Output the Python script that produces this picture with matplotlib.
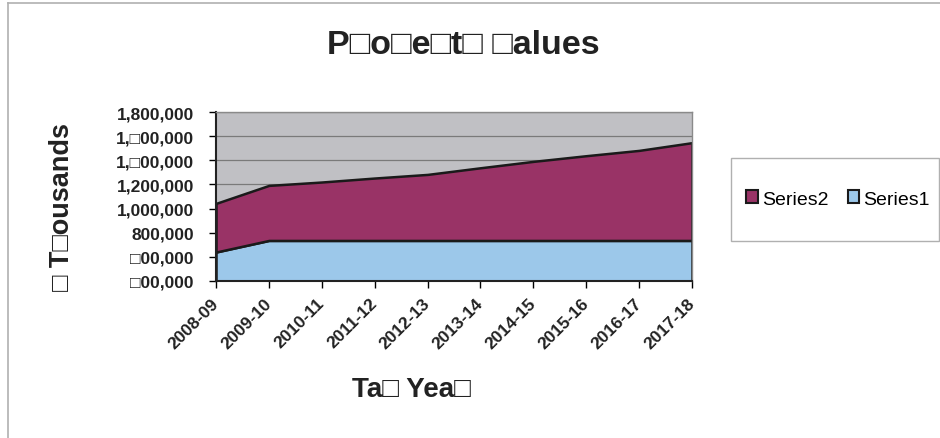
import matplotlib
matplotlib.use("Agg")
import matplotlib.pyplot as plt
from matplotlib.patches import Patch, Rectangle
from matplotlib.lines import Line2D
import numpy as np

plt.rcParams['font.family'] = ['Liberation Sans', 'DejaVu Sans']

years = ['2008-09', '2009-10', '2010-11', '2011-12', '2012-13',
         '2013-14', '2014-15', '2015-16', '2016-17', '2017-18']
series1 = [640000, 736000, 736000, 736000, 736000, 736000, 736000, 736000, 736000, 736000]
series2 = [403000, 456000, 484000, 517000, 547000, 602000, 655000, 702000, 746000, 810000]
y_ticks = [400000, 600000, 800000, 1000000, 1200000, 1400000, 1600000, 1800000]
# digits 4 and 6 were missing from the source font
y_tick_labels = [f"{v:,}".replace('4', '\u25a1').replace('6', '\u25a1') for v in y_ticks]

title = "P\u25a1o\u25a1e\u25a1t\u25a1 \u25a1alues"
y_label = "\u25a1 T\u25a1ousands"
x_label = "Ta\u25a1 Yea\u25a1"

c_grey = '#C0C0C4'
c_purple = '#993366'
c_blue = '#9CC8EA'

fig = plt.figure(figsize=(9.4, 4.39), dpi=100)
ax = fig.add_axes([216 / 940, 1 - 282 / 439, (692 - 216) / 940, (282 - 113) / 439])

x = np.arange(len(years))
ax.set_facecolor(c_grey)
ax.stackplot(x, series1, series2, colors=[c_blue, c_purple],
             edgecolor='#1a1a1a', linewidth=1.8, zorder=2)

ax.set_xlim(0, len(years) - 1)
ax.set_ylim(y_ticks[0], y_ticks[-1])
ax.set_yticks(y_ticks)
ax.set_yticklabels(y_tick_labels, fontsize=12.5, fontweight='bold', color='#222222')
ax.set_xticks(x)
ax.set_xticklabels(years, fontsize=12.5, fontweight='bold', color='#222222',
                   rotation=45, ha='right', va='center', rotation_mode='anchor')
ax.tick_params(axis='y', length=5, width=1, pad=11, direction='out')
ax.tick_params(axis='x', length=5, width=1, pad=9, direction='out')
ax.grid(axis='y', color='#7a7a7a', linewidth=0.9, zorder=1)
ax.set_axisbelow(True)

for side in ['left', 'bottom']:
    ax.spines[side].set_color('#222222')
    ax.spines[side].set_linewidth(1.5)
for side in ['top', 'right']:
    ax.spines[side].set_color('#8a8a8a')
    ax.spines[side].set_linewidth(1.0)

fig.text(463 / 940, 1 - 46 / 439, title, fontsize=24.5, fontweight='bold',
         color='#222222', ha='center', va='center')
fig.text(62 / 940, 1 - 207 / 439, y_label, fontsize=19.5, fontweight='bold',
         color='#222222', ha='center', va='center', rotation=90)
fig.text(411 / 940, 1 - 390 / 439, x_label, fontsize=20, fontweight='bold',
         color='#222222', ha='center', va='center')

# outer chart border
fig.add_artist(Line2D([8 / 940, 1], [1 - 4 / 439, 1 - 4 / 439], color='#b0b0b0', linewidth=1.2))
fig.add_artist(Line2D([8 / 940, 8 / 940], [0, 1 - 4 / 439], color='#b0b0b0', linewidth=1.2))

# legend box
fig.add_artist(Rectangle((731 / 940, 1 - 242 / 439), (939 - 731) / 940, (242 - 159) / 439,
                         transform=fig.transFigure, facecolor='white',
                         edgecolor='#b0b0b0', linewidth=1.0))
handles = [Patch(facecolor=c_purple, edgecolor='#1a1a1a', linewidth=1.5, label='Series2'),
           Patch(facecolor=c_blue, edgecolor='#1a1a1a', linewidth=1.5, label='Series1')]
fig.legend(handles=handles, loc='center', bbox_to_anchor=(838 / 940, 1 - 200 / 439),
           ncol=2, frameon=False, fontsize=14, handlelength=0.6, handleheight=0.6,
           handletextpad=0.2, columnspacing=1.0, borderpad=0)

fig.savefig('out.png', dpi=100)
